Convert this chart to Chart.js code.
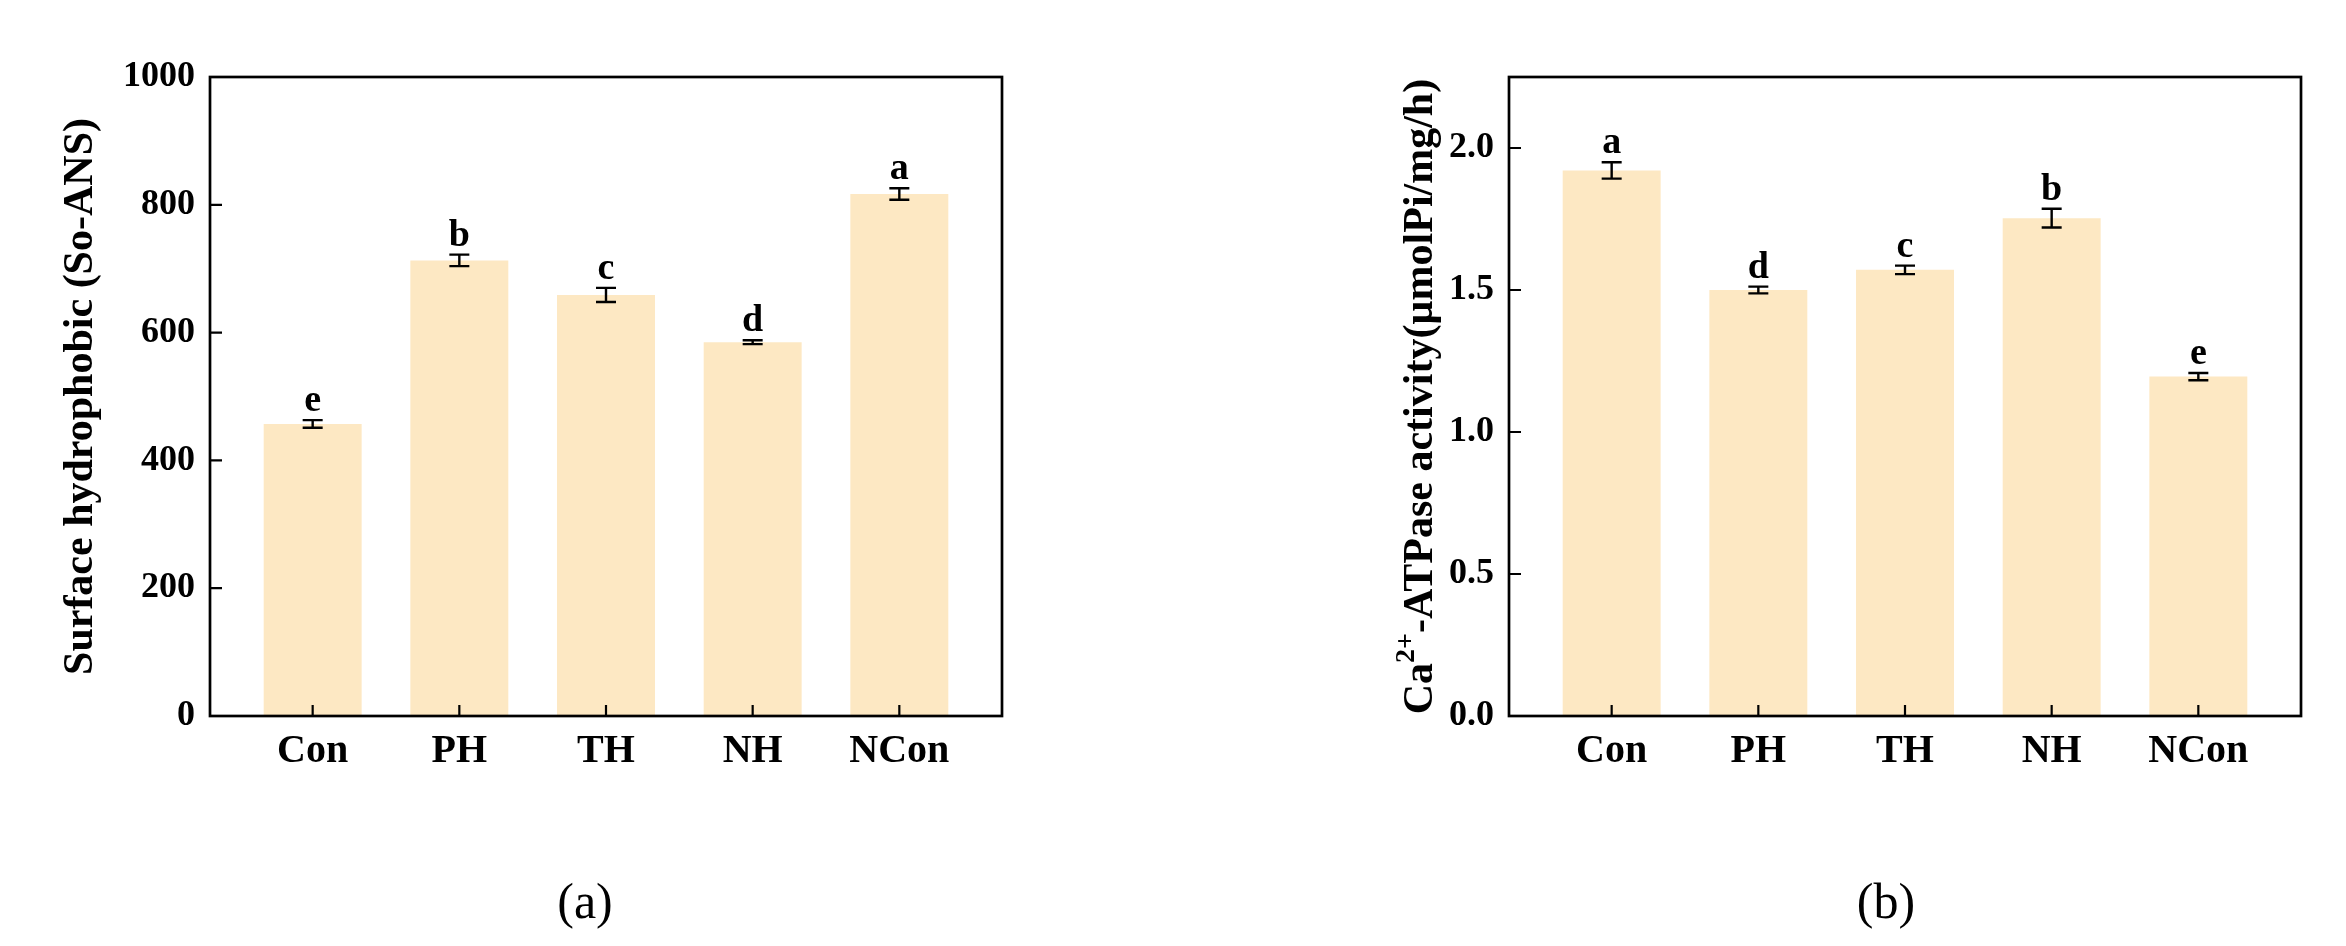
<!DOCTYPE html>
<html>
<head>
<meta charset="utf-8">
<script src="https://cdn.jsdelivr.net/npm/chart.js@4.4.1/dist/chart.umd.min.js"></script>
<style>
  html, body { margin: 0; padding: 0; background: #fff; }
  #wrap { position: relative; width: 2346px; height: 946px; }
  .panel { position: absolute; top: 0; width: 1173px; height: 946px; }
</style>
</head>
<body>
<div id="wrap">
  <div class="panel" style="left:0"><canvas id="chartA"></canvas></div>
  <div class="panel" style="left:1173px"><canvas id="chartB"></canvas></div>
</div>
<script>
// Shared categories
const categories = ["Con", "PH", "TH", "NH", "NCon"];

// (a) surface hydrophobicity
const hydroValues = [457, 713, 659, 585, 817];
const hydroErrors = [6, 9, 11, 3, 9];
const hydroLetters = ["e", "b", "c", "d", "a"];
const hydroTicks = [0, 200, 400, 600, 800, 1000];

// (b) Ca2+-ATPase activity
const atpaseValues = [1.921, 1.500, 1.571, 1.753, 1.195];
const atpaseErrors = [0.029, 0.012, 0.015, 0.033, 0.013];
const atpaseLetters = ["a", "d", "c", "b", "e"];
const atpaseTicks = [0.0, 0.5, 1.0, 1.5, 2.0];

const SERIF = "'Liberation Serif', 'Times New Roman', serif";
const BAR_COLOR = "rgb(253, 232, 195)";

// Draws the frame, inward tick marks, error bars, letters, axis title and caption
const panelDecor = {
    id: "panelDecor",
    afterDatasetsDraw(chart, args, opts) {
        const ctx = chart.ctx;
        const xs = chart.scales.x;
        const ys = chart.scales.y;
        ctx.save();
        ctx.strokeStyle = "#000";
        ctx.fillStyle = "#000";
        ctx.lineWidth = 2.4;
        opts.values.forEach((v, i) => {
            const x = xs.getPixelForValue(i);
            const top = ys.getPixelForValue(v + opts.errors[i]);
            const bot = ys.getPixelForValue(v - opts.errors[i]);
            ctx.beginPath();
            ctx.moveTo(x, top); ctx.lineTo(x, bot);
            ctx.moveTo(x - 10, top); ctx.lineTo(x + 10, top);
            ctx.moveTo(x - 10, bot); ctx.lineTo(x + 10, bot);
            ctx.stroke();
            // significance letter
            ctx.font = "bold 38px " + SERIF;
            ctx.textAlign = "center";
            ctx.textBaseline = "alphabetic";
            ctx.fillText(opts.letters[i], x, top - 9);
        });
        ctx.restore();
    },
    afterDraw(chart, args, opts) {
        const ctx = chart.ctx;
        const area = chart.chartArea;
        const xs = chart.scales.x;
        const ys = chart.scales.y;
        ctx.save();
        ctx.strokeStyle = "#000";
        ctx.lineWidth = 2.7;
        ctx.strokeRect(area.left, area.top, area.right - area.left, area.bottom - area.top);

        // inward ticks
        ctx.lineWidth = 2.2;
        ctx.beginPath();
        xs.ticks.forEach(t => {
            const x = xs.getPixelForValue(t.value);
            ctx.moveTo(x, area.bottom); ctx.lineTo(x, area.bottom - 11);
        });
        ys.ticks.forEach(t => {
            const y = ys.getPixelForValue(t.value);
            ctx.moveTo(area.left, y); ctx.lineTo(area.left + 12, y);
        });
        ctx.stroke();

        // y axis title, rotated, with optional superscript parts
        ctx.fillStyle = "#000";
        ctx.textBaseline = "middle";
        ctx.textAlign = "left";
        const size = 42;
        const supSize = 28;
        let total = 0;
        opts.title.forEach(seg => {
            ctx.font = "bold " + (seg.sup ? supSize : size) + "px " + SERIF;
            total += ctx.measureText(seg.text).width;
        });
        ctx.translate(area.left - opts.titleGap, (area.top + area.bottom) / 2);
        ctx.rotate(-Math.PI / 2);
        let cx = -total / 2;
        opts.title.forEach(seg => {
            ctx.font = "bold " + (seg.sup ? supSize : size) + "px " + SERIF;
            ctx.fillText(seg.text, cx, seg.sup ? -14 : 0);
            cx += ctx.measureText(seg.text).width;
        });
        ctx.restore();

        // panel caption
        ctx.save();
        ctx.fillStyle = "#000";
        ctx.font = "50px " + SERIF;
        ctx.textAlign = "center";
        ctx.textBaseline = "middle";
        ctx.fillText(opts.caption, opts.captionX, 905);
        ctx.restore();
    }
};

function makeChart(id, cfg) {
    return new Chart(document.getElementById(id), {
        type: "bar",
        data: {
            datasets: [{
                data: cfg.values.map((v, i) => ({ x: i, y: v })),
                backgroundColor: BAR_COLOR,
                borderWidth: 0,
                categoryPercentage: 1,
                barPercentage: 0.668
            }]
        },
        options: {
            responsive: true,
            maintainAspectRatio: false,
            animation: false,
            devicePixelRatio: 1,
            layout: { padding: cfg.padding },
            plugins: {
                legend: { display: false },
                tooltip: { enabled: false },
                panelDecor: {
                    values: cfg.values,
                    errors: cfg.errors,
                    letters: cfg.letters,
                    title: cfg.title,
                    titleGap: cfg.titleGap,
                    caption: cfg.caption,
                    captionX: cfg.captionX
                }
            },
            scales: {
                x: {
                    type: "linear",
                    min: -0.7,
                    max: 4.7,
                    offset: false,
                    grid: { display: false, drawTicks: false },
                    border: { display: false },
                    ticks: {
                        color: "#000",
                        font: { family: SERIF, size: 40, weight: "bold" },
                        padding: 12,
                        autoSkip: false,
                        maxRotation: 0,
                        callback: v => categories[v]
                    },
                    afterBuildTicks: s => { s.ticks = categories.map((c, i) => ({ value: i })); },
                    afterFit: s => { s.height = 80; }
                },
                y: {
                    min: 0,
                    max: cfg.max,
                    grid: { display: false, drawTicks: false },
                    border: { display: false },
                    ticks: {
                        color: "#000",
                        font: { family: SERIF, size: 36, weight: "bold" },
                        padding: 15,
                        callback: cfg.fmt
                    },
                    afterBuildTicks: s => { s.ticks = cfg.ticks.map(v => ({ value: v })); },
                    afterFit: s => { s.width = 130; }
                }
            }
        },
        plugins: [panelDecor]
    });
}

makeChart("chartA", {
    values: hydroValues,
    errors: hydroErrors,
    letters: hydroLetters,
    ticks: hydroTicks,
    max: 1000,
    fmt: v => String(v),
    padding: { left: 80, right: 171, top: 77, bottom: 150 },
    title: [{ text: "Surface hydrophobic (So-ANS)" }],
    titleGap: 129,
    caption: "(a)",
    captionX: 585
});

makeChart("chartB", {
    values: atpaseValues,
    errors: atpaseErrors,
    letters: atpaseLetters,
    ticks: atpaseTicks,
    max: 2.25,
    fmt: v => v.toFixed(1),
    padding: { left: 206, right: 45, top: 77, bottom: 150 },
    title: [
        { text: "Ca" },
        { text: "2+", sup: true },
        { text: "-ATPase activity(\u00b5molPi/mg/h)" }
    ],
    titleGap: 88,
    caption: "(b)",
    captionX: 713
});
</script>
</body>
</html>
